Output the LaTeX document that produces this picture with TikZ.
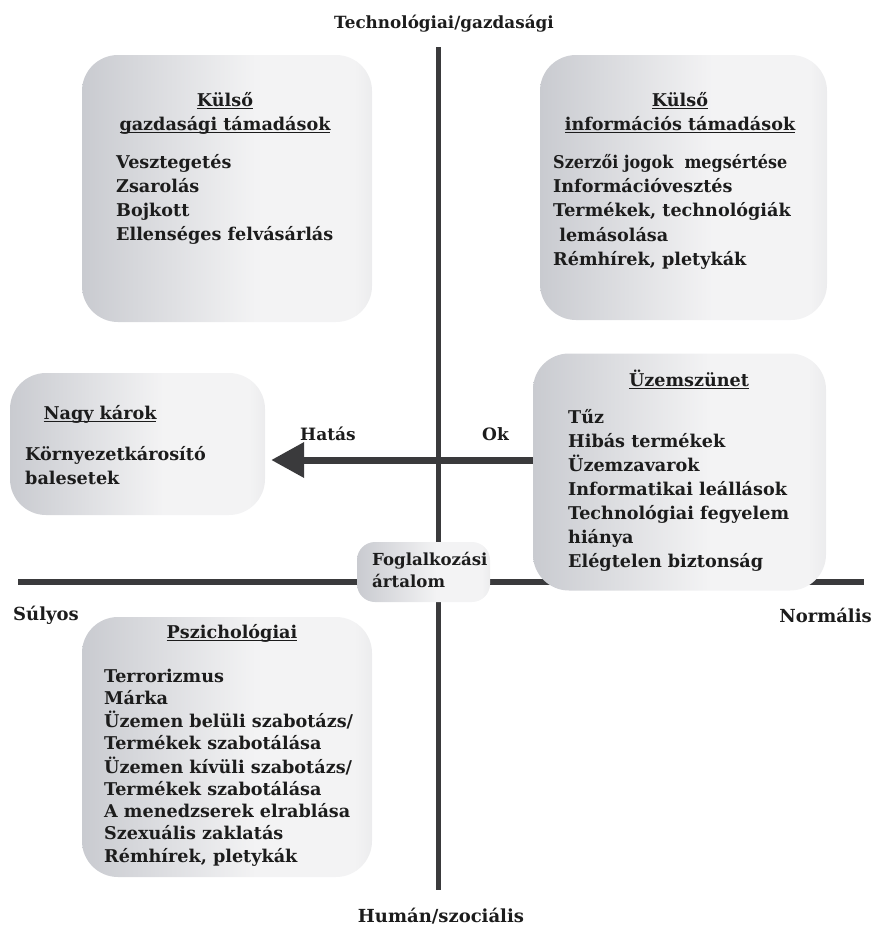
\documentclass[tikz,border=0pt]{standalone}
\usepackage{fontspec}
\setmainfont{DejaVu Serif}
\usetikzlibrary{arrows.meta}
\definecolor{ink}{HTML}{1C1C1C}
\definecolor{axisc}{HTML}{3A3A3C}
\definecolor{mA}{HTML}{A2A5AD}
\definecolor{mB}{HTML}{C2C4CA}
\definecolor{mC}{HTML}{F3F3F4}
\definecolor{mD}{HTML}{B0B2B8}
\pgfdeclarehorizontalshading{metal}{100bp}{color(0bp)=(mA); color(20bp)=(mB); color(55bp)=(mC); color(72bp)=(mC); color(100bp)=(mD)}
\newcommand\ulx[1]{\setbox0\hbox{#1}\rlap{\rule[-3pt]{\wd0}{1.2pt}}\box0}
\newcommand\boxfont{\bfseries\fontsize{17.6}{24}\selectfont}
\tikzset{
  box/.style={shading=metal, rounded corners=36pt, inner sep=0pt, draw=none},
  smallbox/.style={shading=metal, rounded corners=18pt, inner sep=0pt, draw=none},
  axisline/.style={draw=axisc, line width=5pt},
  axislabel/.style={text=ink, font=\bfseries\fontsize{18}{22}\selectfont, inner sep=0pt},
  items/.style={text=ink, font=\boxfont, inner sep=0pt, anchor=base west},
  head/.style={text=ink, font=\boxfont, inner sep=0pt, anchor=base},
  bigarrow/.style={draw=axisc, line width=7pt, -{Triangle[length=33pt,width=34pt]}}
}
\begin{document}
\begin{tikzpicture}[x=1pt,y=-1pt]
\useasboundingbox (0,0) rectangle (874,930);
% axes
\coordinate (vtop) at (438,47);
\coordinate (vbot) at (438,890);
\coordinate (hleft) at (18,582);
\coordinate (hright) at (864,582);
\draw[axisline] (vtop) -- (vbot);
\draw[axisline, line width=6pt] (hleft) -- (hright);
\node[axislabel, anchor=base, font=\bfseries\fontsize{16.8}{20}\selectfont] (ltop) at (444,28) {Technológiai/gazdasági};
\node[axislabel, anchor=base] (lbot) at (441,922) {Humán/szociális};
\node[axislabel, anchor=base west] (lleft) at (13,620) {Súlyos};
\node[axislabel, anchor=base east] (lright) at (872,622) {Normális};
% boxes
\node[box, minimum width=290pt, minimum height=267pt] (b1) at (227,188.5) {};
\node[box, minimum width=287pt, minimum height=265pt] (b2) at (683.5,187.5) {};
\node[box, minimum width=255pt, minimum height=142pt] (b3) at (137.5,444) {};
\node[box, minimum width=293pt, minimum height=237pt] (b4) at (679.5,472) {};
\node[smallbox, minimum width=133pt, minimum height=60pt] (b5) at (423.5,572) {};
\node[box, minimum width=290pt, minimum height=260pt] (b6) at (227,747) {};
% box 1
\node[head] (t1) at (225,106) {\begin{tabular}[t]{@{}c@{}}\ulx{Külső}\\\ulx{gazdasági támadások}\end{tabular}};
\node[items] (i1) at (116,168) {\begin{tabular}[t]{@{}l@{}}Vesztegetés\\Zsarolás\\Bojkott\\Ellenséges felvásárlás\end{tabular}};
% box 2
\node[head] (t2) at (680,106) {\begin{tabular}[t]{@{}c@{}}\ulx{Külső}\\\ulx{információs támadások}\end{tabular}};
\node[items, font=\bfseries\fontsize{17.6}{24.4}\selectfont] (i2) at (553,168) {\begin{tabular}[t]{@{}l@{}}\scalebox{0.91}[1]{Szerzői jogok\ \ megsértése}\\Információvesztés\\Termékek, technológiák\\\ lemásolása\\Rémhírek, pletykák\end{tabular}};
% box 3
\node[head] (t3) at (100,419) {\ulx{Nagy károk}};
\node[items] (i3) at (25,460) {\begin{tabular}[t]{@{}l@{}}Környezetkárosító\\balesetek\end{tabular}};
% box 4
\node[head] (t4) at (689,386) {\ulx{Üzemszünet}};
\node[items] (i4) at (568,423) {\begin{tabular}[t]{@{}l@{}}Tűz\\Hibás termékek\\Üzemzavarok\\Informatikai leállások\\Technológiai fegyelem\\hiánya\\Elégtelen biztonság\end{tabular}};
% box 5
\node[items, font=\bfseries\fontsize{16.6}{22}\selectfont] (i5) at (372,565) {\begin{tabular}[t]{@{}l@{}}Foglalkozási\\ártalom\end{tabular}};
% box 6
\node[head] (t6) at (232,638) {\ulx{Pszichológiai}};
\node[items, font=\bfseries\fontsize{17.6}{22.3}\selectfont] (i6) at (104,682) {\begin{tabular}[t]{@{}l@{}}Terrorizmus\\Márka\\Üzemen belüli szabotázs/\\Termékek szabotálása\\Üzemen kívüli szabotázs/\\Termékek szabotálása\\A menedzserek elrablása\\Szexuális zaklatás\\Rémhírek, pletykák\end{tabular}};
% arrow
\coordinate (ay) at (0,460);
\draw[bigarrow, shorten >=6pt] (b4.west |- ay) -- (b3.east |- ay);
\node[axislabel, anchor=base west, font=\bfseries\fontsize{17}{20}\selectfont] (hatas) at (300,440) {Hatás};
\node[axislabel, anchor=base west, font=\bfseries\fontsize{17}{20}\selectfont] (ok) at (482,440) {Ok};
\end{tikzpicture}
\end{document}
